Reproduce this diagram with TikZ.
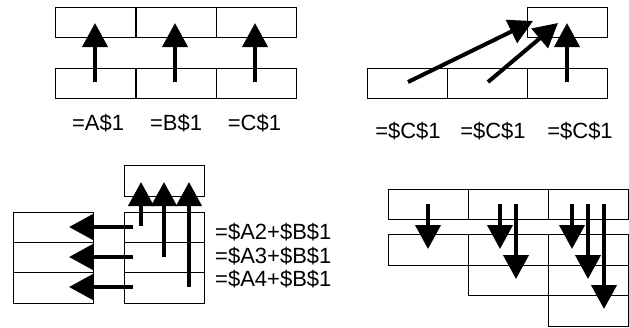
\documentclass[tikz,border=0pt]{standalone}
\usepackage{fontspec}
\setmainfont{Liberation Sans}
\usetikzlibrary{arrows.meta}
\begin{document}
\begin{tikzpicture}[x=1pt,y=-1pt,
  cell/.style={draw,line width=1pt,inner sep=0pt,anchor=north west,minimum width=80pt,minimum height=30pt},
  ref/.style={line width=4pt,-{Triangle[width=25pt,length=24pt]}},
  lbl/.style={inner sep=0pt,font=\fontsize{22}{26}\selectfont}]
\useasboundingbox (0,0) rectangle (629,327);
% top-left
\node[cell] (a1) at (55,7) {};
\node[cell] (b1) at (136,7) {};
\node[cell] (c1) at (216,7) {};
\node[cell] (a2) at (55,68) {};
\node[cell] (b2) at (136,68) {};
\node[cell] (c2) at (216,68) {};
\coordinate (pa) at (95,82); \coordinate (qa) at (95,23);
\coordinate (pb) at (175,82); \coordinate (qb) at (175,23);
\coordinate (pc) at (255,82); \coordinate (qc) at (255,23);
\draw[ref] (pa) -- (qa);
\draw[ref] (pb) -- (qb);
\draw[ref] (pc) -- (qc);
\node[lbl,anchor=base] (la) at (98,130) {=A\$1};
\node[lbl,anchor=base] (lb) at (176,130) {=B\$1};
\node[lbl,anchor=base] (lc) at (254.5,130) {=C\$1};
% top-right
\node[cell] (tc) at (527,7) {};
\node[cell] (u1) at (367,68) {};
\node[cell] (u2) at (447,68) {};
\node[cell] (u3) at (527,68) {};
\coordinate (r1) at (408,82); \coordinate (s1) at (533,21);
\coordinate (r2) at (488,82); \coordinate (s2) at (558,23);
\coordinate (r3) at (567,82); \coordinate (s3) at (567,23);
\draw[ref] (r1) -- (s1);
\draw[ref] (r2) -- (s2);
\draw[ref] (r3) -- (s3);
\node[lbl,anchor=base] (m1) at (408,138) {=\$C\$1};
\node[lbl,anchor=base] (m2) at (493,138) {=\$C\$1};
\node[lbl,anchor=base] (m3) at (580,138) {=\$C\$1};
% bottom-left
\node[cell,minimum height=31pt] (bb) at (124,165) {};
\node[cell] (r21) at (124,212) {};
\node[cell] (r22) at (124,242) {};
\node[cell,minimum height=31pt] (r23) at (124,272) {};
\node[cell] (l21) at (13,212) {};
\node[cell] (l22) at (13,242) {};
\node[cell,minimum height=31pt] (l23) at (13,272) {};
\coordinate (h1) at (133,227); \coordinate (g1) at (69,227);
\coordinate (h2) at (133,257); \coordinate (g2) at (69,257);
\coordinate (h3) at (133,287); \coordinate (g3) at (69,287);
\draw[ref] (h1) -- (g1);
\draw[ref] (h2) -- (g2);
\draw[ref] (h3) -- (g3);
\coordinate (v1) at (141,226); \coordinate (w1) at (141,182);
\coordinate (v2) at (164,257); \coordinate (w2) at (164,182);
\coordinate (v3) at (189,287); \coordinate (w3) at (189,182);
\draw[ref] (v1) -- (w1);
\draw[ref] (v2) -- (w2);
\draw[ref] (v3) -- (w3);
\node[lbl,anchor=base west] (f1) at (215,239) {=\$A2+\$B\$1};
\node[lbl,anchor=base west] (f2) at (215,263) {=\$A3+\$B\$1};
\node[lbl,anchor=base west] (f3) at (215,286) {=\$A4+\$B\$1};
% bottom-right
\node[cell] (x11) at (388,189) {};
\node[cell] (x12) at (468,189) {};
\node[cell] (x13) at (548,189) {};
\node[cell,minimum height=31pt] (x21) at (388,234) {};
\node[cell,minimum height=31pt] (x22) at (468,234) {};
\node[cell,minimum height=31pt] (x23) at (548,234) {};
\node[cell] (x32) at (468,265) {};
\node[cell] (x33) at (548,265) {};
\node[cell,minimum height=31pt] (x43) at (548,295) {};
\coordinate (d1) at (428,204); \coordinate (e1) at (428,249);
\coordinate (d2) at (500,204); \coordinate (e2) at (500,249);
\coordinate (d3) at (516,204); \coordinate (e3) at (516,279);
\coordinate (d4) at (572,204); \coordinate (e4) at (572,249);
\coordinate (d5) at (588,204); \coordinate (e5) at (588,279);
\coordinate (d6) at (604,204); \coordinate (e6) at (604,309);
\draw[ref] (d1) -- (e1);
\draw[ref] (d2) -- (e2);
\draw[ref] (d3) -- (e3);
\draw[ref] (d4) -- (e4);
\draw[ref] (d5) -- (e5);
\draw[ref] (d6) -- (e6);
\end{tikzpicture}
\end{document}
